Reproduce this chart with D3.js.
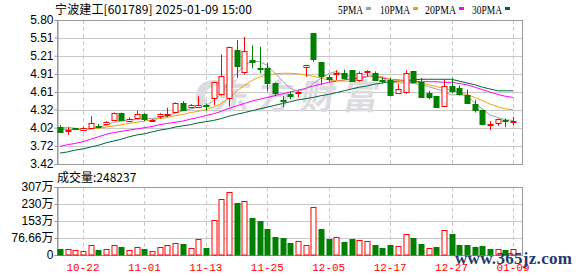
<!DOCTYPE html>
<html>
<head>
<meta charset="utf-8">
<script src="https://cdn.jsdelivr.net/npm/d3@7"></script>
<style>
body { margin: 0; background: #fff; }
svg text { font-family: "Liberation Sans", "Noto Sans CJK SC", sans-serif; }
</style>
</head>
<body>
<div id="chart"></div>
<script>
const dates = ["10-17","10-18","10-21","10-22","10-23","10-24","10-25","10-28","10-29","10-30",
    "10-31","11-01","11-04","11-05","11-06","11-07","11-08","11-11","11-12","11-13",
    "11-14","11-15","11-18","11-19","11-20","11-21","11-22","11-25","11-26","11-27",
    "11-28","11-29","12-02","12-03","12-04","12-05","12-06","12-09","12-10","12-11",
    "12-12","12-13","12-16","12-17","12-18","12-19","12-20","12-23","12-24","12-25",
    "12-26","12-27","12-30","12-31","01-02","01-03","01-06","01-07","01-08","01-09"]

const open_p = [4.03,3.97,4.01,3.98,4.01,4.05,4.08,4.15,4.26,4.13,
    4.19,4.25,4.14,4.20,4.24,4.28,4.43,4.35,4.36,4.39,
    4.51,4.57,4.52,5.30,4.95,5.14,5.01,5.00,4.76,4.47,
    4.57,4.60,5.02,5.58,5.10,4.85,4.92,4.92,4.97,4.81,
    4.94,4.93,4.81,4.81,4.59,4.60,4.96,4.78,4.60,4.54,
    4.38,4.71,4.68,4.56,4.41,4.31,4.07,4.09,4.15,4.12]
const close_p = [3.94,3.98,3.99,4.02,4.09,4.04,4.11,4.26,4.14,4.16,
    4.25,4.16,4.15,4.24,4.25,4.43,4.32,4.39,4.39,4.38,
    4.77,4.87,5.36,5.03,5.29,5.10,5.00,4.76,4.59,4.45,
    4.53,4.61,5.05,5.15,4.87,4.81,4.93,4.84,4.79,4.93,
    4.95,4.82,4.80,4.56,4.66,4.92,4.78,4.54,4.54,4.36,
    4.71,4.63,4.58,4.42,4.31,4.08,4.08,4.16,4.14,4.13]
const high_p = [4.06,4.03,4.01,4.03,4.21,4.08,4.13,4.27,4.27,4.19,
    4.30,4.26,4.16,4.26,4.35,4.44,4.46,4.41,4.54,4.42,
    4.78,5.23,5.36,5.47,5.52,5.38,5.36,5.09,4.77,4.54,
    4.62,4.63,5.05,5.58,5.10,4.89,4.97,4.98,4.97,4.95,
    4.97,4.95,4.86,4.84,4.74,4.97,4.96,4.84,4.63,4.54,
    4.82,4.84,4.72,4.65,4.48,4.32,4.13,4.17,4.17,4.20]
const low_p = [3.93,3.90,3.99,3.97,4.00,4.01,4.07,4.14,4.13,4.11,
    4.16,4.13,4.13,4.17,4.19,4.27,4.30,4.34,4.36,4.30,
    4.39,4.55,4.37,4.84,4.90,5.00,4.92,4.62,4.54,4.36,
    4.49,4.52,4.86,5.11,4.73,4.78,4.81,4.82,4.78,4.78,
    4.86,4.81,4.75,4.54,4.58,4.58,4.75,4.53,4.49,4.35,
    4.37,4.59,4.55,4.41,4.27,4.06,3.98,4.05,4.03,4.06]

// volume in 万, colour of each bar (1 = red, 0 = green)
const volume = [26.9,25.4,21,18,43,22,25,43,36,22,
    34,27,18,34,43,54,49,31,70,31,
    160,254,286,233,245,166,153,117,81,77.8,
    55,63,45,215,117,72,79,60,72,67,
    63,45,31,45,40,94,76,49,30,36,
    112,96,45,45,36,40,27,27,22,24.8237]
const volUp = [0,1,1,1,1,0,1,1,0,1,
    1,0,1,1,1,1,0,1,1,0,
    1,1,1,0,1,0,0,0,0,0,
    0,1,1,1,0,0,1,0,0,1,
    1,0,0,0,1,1,0,0,1,0,
    1,0,0,0,0,0,0,1,0,1]

const ma5 = [3.99,3.99,3.99,3.99,4.00,4.03,4.06,4.11,4.13,4.15,
    4.16,4.17,4.17,4.19,4.21,4.26,4.30,4.33,4.36,4.38,
    4.47,4.58,4.78,4.91,5.05,5.12,5.11,5.05,4.92,4.79,
    4.67,4.62,4.66,4.75,4.84,4.91,4.95,4.89,4.86,4.82,
    4.87,4.88,4.84,4.77,4.76,4.76,4.75,4.73,4.70,4.66,
    4.62,4.56,4.57,4.55,4.43,4.33,4.23,4.19,4.15,4.14]
const ma10 = [4.01,4.03,4.01,3.99,4.00,4.01,4.03,4.05,4.07,4.09,
    4.11,4.13,4.15,4.17,4.19,4.22,4.24,4.27,4.29,4.32,
    4.36,4.42,4.51,4.62,4.72,4.80,4.86,4.89,4.91,4.92,
    4.92,4.91,4.89,4.87,4.84,4.81,4.80,4.79,4.79,4.82,
    4.86,4.88,4.86,4.82,4.80,4.79,4.78,4.76,4.73,4.70,
    4.67,4.64,4.61,4.57,4.52,4.47,4.41,4.37,4.33,4.32]
const ma20 = [3.71,3.74,3.76,3.79,3.83,3.87,3.91,3.94,3.96,3.98,
    4.00,4.02,4.04,4.07,4.09,4.11,4.13,4.16,4.19,4.22,
    4.25,4.29,4.34,4.38,4.42,4.46,4.49,4.52,4.55,4.58,
    4.61,4.64,4.67,4.71,4.74,4.77,4.79,4.81,4.83,4.85,
    4.87,4.86,4.84,4.82,4.81,4.80,4.79,4.78,4.78,4.78,
    4.77,4.77,4.75,4.73,4.69,4.65,4.61,4.57,4.54,4.52]
const ma30 = [3.60,3.62,3.65,3.67,3.70,3.73,3.77,3.80,3.83,3.87,
    3.90,3.92,3.95,3.98,4.00,4.03,4.05,4.07,4.10,4.12,
    4.14,4.17,4.21,4.24,4.27,4.30,4.33,4.36,4.39,4.42,
    4.45,4.48,4.50,4.52,4.55,4.57,4.60,4.63,4.66,4.69,
    4.71,4.74,4.76,4.78,4.79,4.80,4.81,4.82,4.82,4.82,
    4.82,4.82,4.79,4.76,4.73,4.69,4.66,4.63,4.63,4.63]

const priceTicks = [5.80,5.51,5.21,4.91,4.61,4.32,4.02,3.72,3.42]
const volTicks = [306.64,230,153.32,76.66,0]
const volTickLabels = ["307万","230万","153万","76.66万","0"]
const xTickLabels = ["10-22","11-01","11-13","11-25","12-05","12-17","12-27","01-09"]
const maNames = ["5PMA","10PMA","20PMA","30PMA"]
const maColors = ["#a0a0a0","#f5a300","#ff00ff","#006633"]

const W = 578, H = 276
const left = 57, right = 522
const pTop = 20, pBottom = 164
const vTop = 187, vBottom = 255
const red = "#ff0000", green = "#008000"

const svg = d3.select("#chart").append("svg")
    .attr("width", W).attr("height", H)
    .style("display", "block")

const x = d3.scaleLinear().domain([0, dates.length - 1]).range([60, 513])
const y = d3.scaleLinear().domain([3.42, 5.80]).range([pBottom, pTop])
const yv = d3.scaleLinear().domain([0, 306.64]).range([vBottom, vTop])

// horizontal grid
svg.append("g").selectAll("line")
    .data(priceTicks.slice(1, -1))
    .enter().append("line")
    .attr("x1", left).attr("x2", right)
    .attr("y1", d => Math.round(y(d)) + 0.5).attr("y2", d => Math.round(y(d)) + 0.5)
    .attr("stroke", "#c8c8c8")
svg.append("g").selectAll("line")
    .data(volTicks.slice(1, -1))
    .enter().append("line")
    .attr("x1", left).attr("x2", right)
    .attr("y1", d => Math.round(yv(d)) + 0.5).attr("y2", d => Math.round(yv(d)) + 0.5)
    .attr("stroke", "#c8c8c8")

// vertical dashed grid
const tickIdx = xTickLabels.map(t => dates.indexOf(t))
tickIdx.forEach(i => {
    const xx = Math.round(x(i)) + 0.5
    ;[[pTop, pBottom], [vTop, vBottom]].forEach(r => {
        svg.append("line")
            .attr("x1", xx).attr("x2", xx)
            .attr("y1", r[0]).attr("y2", r[1])
            .attr("stroke", "#c8c8c8")
            .attr("stroke-dasharray", "4,3")
    })
})

// watermark, one glyph at a time
const wm = svg.append("g").attr("fill", "#dcdce0")
wm.append("path")
    .attr("d", "M198,106 C192,92 200,80 214,80 L222,80 L218,86 C206,86 202,96 208,104 Z")
Array.from("东方财富").forEach((c, k) => {
    wm.append("text")
        .attr("transform", "translate(" + (213 + k * 43) + ",109) skewX(-10)")
        .style("font-family", "'Noto Sans CJK SC'")
        .style("font-weight", "bold")
        .style("font-size", "35px")
        .text(c)
})

// frames
svg.append("rect").attr("x", left + 0.5).attr("y", pTop + 0.5)
    .attr("width", right - left).attr("height", pBottom - pTop)
    .attr("fill", "none").attr("stroke", "#999")
svg.append("rect").attr("x", left + 0.5).attr("y", vTop + 0.5)
    .attr("width", right - left).attr("height", vBottom - vTop)
    .attr("fill", "none").attr("stroke", "#999")

// axes
const yAxis = svg.append("g")
    .attr("transform", "translate(" + (left + 0.5) + ",0)")
    .call(d3.axisLeft(y).tickValues(priceTicks).tickSize(3).tickPadding(1)
        .tickFormat(d3.format(".2f")))
const vAxis = svg.append("g")
    .attr("transform", "translate(" + (left + 0.5) + ",0)")
    .call(d3.axisLeft(yv).tickValues(volTicks).tickSize(3).tickPadding(1)
        .tickFormat((d, i) => volTickLabels[i]))
;[yAxis, vAxis].forEach(a => {
    a.select(".domain").attr("stroke", "#999")
    a.selectAll(".tick line").attr("stroke", "#999")
    a.selectAll(".tick text").attr("fill", "#000")
        .style("font-size", "12px")
        .style("font-family", "'Liberation Sans', 'Noto Sans CJK SC', sans-serif")
})

// x labels
svg.append("g").selectAll("text")
    .data(tickIdx)
    .enter().append("text")
    .attr("x", d => x(d)).attr("y", 271)
    .attr("text-anchor", "middle")
    .attr("fill", red)
    .style("font-family", "'Liberation Mono', monospace")
    .style("font-size", "11px")
    .text((d, i) => xTickLabels[i])

// moving averages
const maData = [ma5, ma10, ma20, ma30]
for (let k = maData.length - 1; k >= 0; k--) {
    svg.append("path")
        .datum(maData[k])
        .attr("fill", "none")
        .attr("stroke", maColors[k])
        .attr("stroke-width", 1)
        .attr("d", d3.line().x((d, i) => x(i)).y(d => y(d)))
}

// candles
const bw = 5
const candles = svg.append("g")
dates.forEach((d, i) => {
    const up = close_p[i] >= open_p[i]
    const col = up ? red : green
    const cx = Math.round(x(i)) + 0.5
    candles.append("line")
        .attr("x1", cx).attr("x2", cx)
        .attr("y1", y(high_p[i])).attr("y2", y(low_p[i]))
        .attr("stroke", col)
    const top = y(Math.max(open_p[i], close_p[i]))
    const bot = y(Math.min(open_p[i], close_p[i]))
    candles.append("rect")
        .attr("x", cx - bw / 2).attr("y", Math.round(top) + 0.5)
        .attr("width", bw).attr("height", Math.max(1, Math.round(bot - top)))
        .attr("fill", up ? "#fff" : green)
        .attr("stroke", col)
})

// volume bars
svg.append("g").selectAll("rect")
    .data(volume)
    .enter().append("rect")
    .attr("x", (d, i) => Math.round(x(i)) + 0.5 - bw / 2)
    .attr("y", d => Math.round(yv(d)) + 0.5)
    .attr("width", bw)
    .attr("height", d => vBottom - Math.round(yv(d)) - 0.5)
    .attr("fill", (d, i) => volUp[i] ? "#fff" : green)
    .attr("stroke", (d, i) => volUp[i] ? red : green)

// title and legend
svg.append("text")
    .attr("x", 55).attr("y", 14)
    .attr("textLength", 197)
    .style("font-family", "'Noto Sans CJK SC', sans-serif")
    .style("font-size", "12px")
    .attr("fill", "#000")
    .text("宁波建工[601789] 2025-01-09 15:00")

const legendX = [338, 380, 425, 472]
const legendW = [25, 30, 31, 30]
const legend = svg.append("g")
maNames.forEach((n, k) => {
    legend.append("text")
        .attr("x", legendX[k]).attr("y", 14)
        .attr("textLength", legendW[k]).attr("lengthAdjust", "spacingAndGlyphs")
        .style("font-family", "'Liberation Serif', serif")
        .style("font-size", "12px")
        .attr("fill", "#000")
        .text(n)
    legend.append("rect")
        .attr("x", legendX[k] + legendW[k] + 3).attr("y", 7)
        .attr("width", 5).attr("height", 3)
        .attr("fill", maColors[k])
})

svg.append("text")
    .attr("x", 57).attr("y", 182)
    .style("font-family", "'Noto Sans CJK SC', sans-serif")
    .style("font-size", "12px")
    .attr("fill", "#000")
    .text("成交量:" + Math.round(volume[volume.length - 1] * 10000))

// site watermark
svg.append("text")
    .attr("x", 455).attr("y", 264)
    .attr("textLength", 117)
    .style("font-family", "'Liberation Serif', serif")
    .style("font-weight", "bold")
    .style("font-size", "17px")
    .attr("fill", "#1f3a6e")
    .text("www.365jz.com")
</script>
</body>
</html>
